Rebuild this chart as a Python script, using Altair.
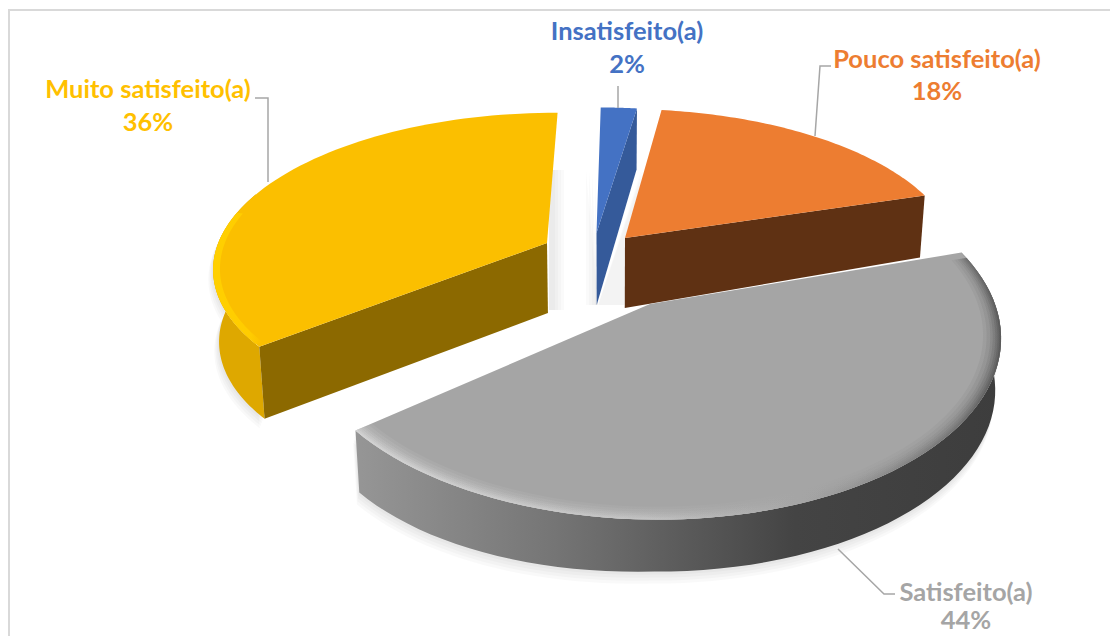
import altair as alt
import numpy as np
import pandas as pd

names = ["Insatisfeito(a)", "Pouco satisfeito(a)", "Satisfeito(a)", "Muito satisfeito(a)"]
values = [2, 18, 44, 36]
text_colors = ["#4472c4", "#ed7d31", "#a5a5a5", "#ffc000"]
top_colors = ["#4472c4", "#ed7d31", "#a5a5a5", "#fbbf00"]
cut_colors = ["#355a9a", "#5f3113", "#3f3f3f", "#8c6900"]

# layout of the tilted pie (projection of the disc onto the page)
VX, VY, S, ST, K = 610.0, 262.0, 340.0, 155.0, 0.15
FIRST_ANGLE = 0.5
apex_px = [(596.5, 233), (625, 238), (650, 304), (547, 243)]
x_stretch = [1.0, 0.99, 0.975, 0.985]
y_stretch = [0.98, 1.0, 1.07, 1.0]
apex_wall = [72, 70, 0, 70]
rim_wall = [61, 62, 0, 72]
name_pos = [(627, 32), (937, 60), (966, 593), (148, 90)]
pct_pos = [(627, 65), (937, 92), (966, 621), (148, 123)]

W, H = 1102, 628
xs = alt.Scale(domain=[8, 8 + W], range=[0, W], nice=False, zero=False)
ys = alt.Scale(domain=[8, 8 + H], range=[0, H], nice=False, zero=False)


def proj(gx, gy):
    s = 1 / (1 - K * gy)
    return VX + S * gx * s, VY + ST * gy * s


def invert(x, y):
    u = y - VY
    gy = u / (ST + K * u)
    return (x - VX) * (1 - K * gy) / S, gy


edges = FIRST_ANGLE + np.concatenate([[0], np.cumsum(values)]) * 3.6
anchors = [invert(*p) for p in apex_px]


def rim(i, a0, a1, r=1.0, n=70):
    t = np.radians(np.linspace(a0, a1, n))
    ax, ay = anchors[i]
    return proj(ax + r * x_stretch[i] * np.sin(t), ay - r * y_stretch[i] * np.cos(t))


def drop(x, y, h):
    x = np.asarray(x, dtype=float)
    return VX + (x - VX) * 0.985, np.asarray(y, dtype=float) + h


def poly(x, y, fill, opacity=1.0):
    d = pd.DataFrame({"x": x, "y": y, "i": np.arange(len(x))})
    return alt.Chart(d).mark_line(fill=fill, strokeWidth=0, opacity=opacity, clip=True).encode(
        x=alt.X("x:Q", scale=xs, axis=None),
        y=alt.Y("y:Q", scale=ys, axis=None),
        order="i:Q",
    )


def hgrad(*stops):
    return alt.Gradient(
        gradient="linear", x1=0, x2=1, y1=0, y2=0,
        stops=[alt.GradientStop(color=c, offset=o) for o, c in stops],
    )


def top(i):
    rx, ry = rim(i, edges[i], edges[i + 1])
    return poly(np.r_[apex_px[i][0], rx], np.r_[apex_px[i][1], ry], top_colors[i])


def wall_height(i, rx):
    if i == 2:
        return 52 + 10 * np.clip((650 - rx) / 295, 0, 1)
    return rim_wall[i]


def outer_wall(i, a0, a1, fill, dx=0, dy=0, opacity=1.0):
    rx, ry = rim(i, a0, a1)
    bx, by = drop(rx, ry, wall_height(i, rx))
    return poly(np.r_[rx, bx[::-1]] + dx, np.r_[ry, by[::-1]] + dy, fill, opacity)


def cut_wall(i, angle):
    rx, ry = rim(i, angle, angle, n=1)
    ex, ey = rx[0], ry[0]
    ax, ay = apex_px[i]
    bx, by = drop([ax, ex], [ay, ey], np.array([apex_wall[i], rim_wall[i]]))
    return poly([ax, ex, bx[1], bx[0]], [ay, ey, by[1], by[0]], cut_colors[i])


def band(i, a0, a1, r0, fill, opacity=1.0):
    ox, oy = rim(i, a0, a1)
    ix, iy = rim(i, a0, a1, r=r0)
    return poly(np.r_[ox, ix[::-1]], np.r_[oy, iy[::-1]], fill, opacity)


layers = []

# chart frame
frame = pd.DataFrame({"x": [8, 9], "y": [10, 10], "x2": [1118, 9], "y2": [10, 636]})
layers.append(
    alt.Chart(frame).mark_rule(color="#d9d9d9", strokeWidth=2).encode(
        x=alt.X("x:Q", scale=xs, axis=None), y=alt.Y("y:Q", scale=ys, axis=None),
        x2="x2:Q", y2="y2:Q",
    )
)

# soft shadows
for o in (3, 6, 9, 12):
    layers.append(outer_wall(2, 95, edges[3], "#000000", dx=-o * 0.2, dy=o, opacity=0.025))
    layers.append(outer_wall(3, edges[3], 285, "#000000", dx=-o * 0.4, dy=o * 0.8, opacity=0.025))
    layers.append(poly([598 - o, 598 - o, 598], [170, 305, 305], "#000000", opacity=0.02))
    layers.append(poly([549, 552 + o, 552 + o, 549], [170, 170, 310, 310], "#000000", opacity=0.02))
    layers.append(poly([598, 640 + o * 0.3, 625, 598], [305, 170, 305, 305], "#000000", opacity=0.012))

# blue
layers += [cut_wall(0, edges[1]), top(0)]
# orange
layers += [cut_wall(1, edges[2]), top(1)]
# yellow
layers += [
    outer_wall(3, edges[3], 290, "#dea800"),
    cut_wall(3, edges[3]),
    top(3),
    band(3, edges[3] + 1, 282, 0.98, hgrad((0, "#ffd000"), (0.75, "#ffcc00"), (1, "#fbbf00"))),
]
# grey
layers += [
    outer_wall(2, edges[2], edges[3],
               hgrad((0, "#969696"), (0.3, "#767676"), (0.68, "#444444"), (1, "#3d3d3d"))),
    top(2),
]
for r0, op in ((0.95, 0.1), (0.96, 0.12), (0.97, 0.15), (0.977, 0.2), (0.984, 0.25), (0.99, 0.3), (0.995, 0.4)):
    layers.append(
        band(2, edges[2] + 2, edges[3], r0,
             hgrad((0, "#dcdcdc"), (0.45, "#c8c8c8"), (0.72, "#a0a0a0"), (0.93, "#6c6c6c"), (1, "#4c4c4c")), op)
    )

# leader lines
leaders = [
    [(618, 86), (618, 108)],
    [(831, 66), (820, 66), (815, 136)],
    [(838, 549), (884, 594), (895, 594)],
    [(255, 98), (268, 98), (268, 182)],
]
for pts in leaders:
    d = pd.DataFrame(pts, columns=["x", "y"]).assign(i=range(len(pts)))
    layers.append(
        alt.Chart(d).mark_line(color="#a6a6a6", strokeWidth=1.5).encode(
            x=alt.X("x:Q", scale=xs, axis=None), y=alt.Y("y:Q", scale=ys, axis=None), order="i:Q"
        )
    )

# labels
lab = pd.DataFrame({
    "name": names,
    "pct": [f"{v}%" for v in values],
    "color": text_colors,
    "nx": [p[0] for p in name_pos],
    "ny": [p[1] for p in name_pos],
    "px": [p[0] for p in pct_pos],
    "py": [p[1] for p in pct_pos],
})
for xf, yf, tf in (("nx", "ny", "name"), ("px", "py", "pct")):
    layers.append(
        alt.Chart(lab).mark_text(font="Lato", fontWeight="bold", fontSize=25.5, baseline="middle", align="center").encode(
            x=alt.X(f"{xf}:Q", scale=xs, axis=None),
            y=alt.Y(f"{yf}:Q", scale=ys, axis=None),
            text=f"{tf}:N",
            color=alt.Color("color:N", scale=None, legend=None),
        )
    )

chart = alt.layer(*layers).properties(
    width=W, height=H, padding=0, autosize=alt.AutoSizeParams(type="none"),
    background="white",
).configure_view(stroke=None)

chart.save("out.html", embed_options={"renderer": "svg", "actions": False})
